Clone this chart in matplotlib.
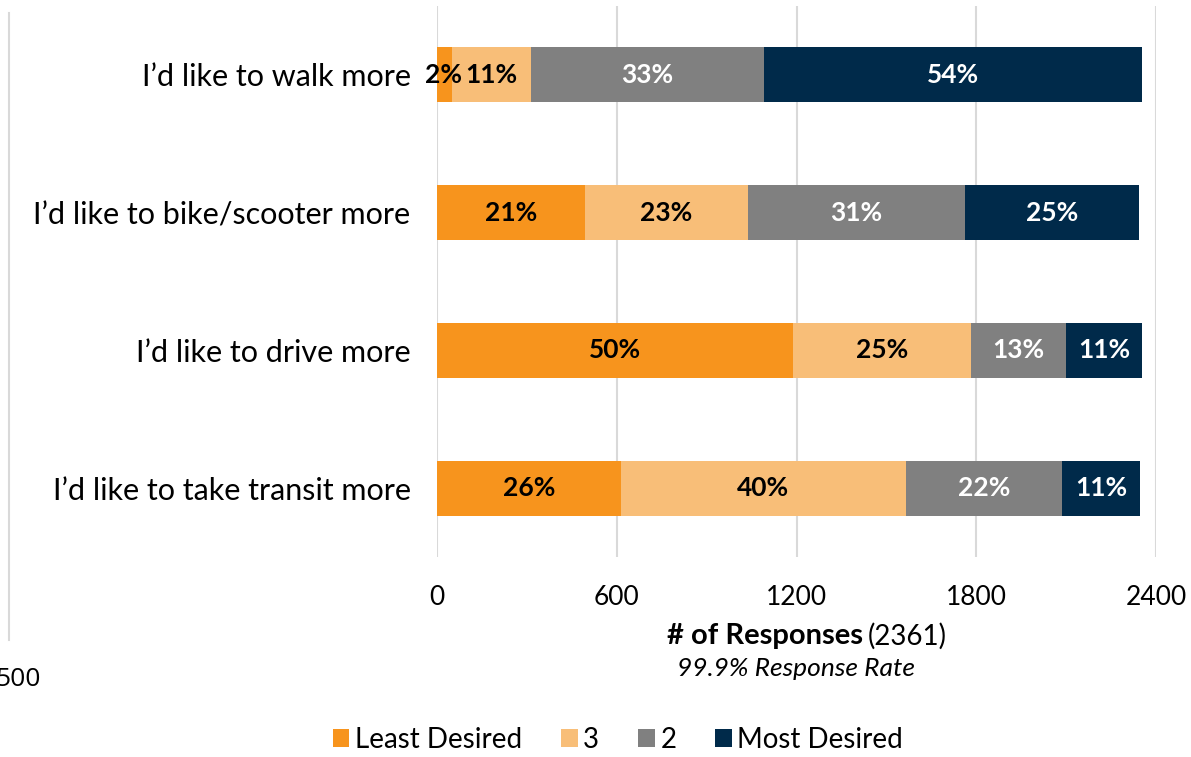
import matplotlib
matplotlib.use("Agg")
import matplotlib.pyplot as plt
import numpy as np

plt.rcParams["font.family"] = ["Lato", "DejaVu Sans"]

categories = ["I\u2019d like to walk more", "I\u2019d like to bike/scooter more",
              "I\u2019d like to drive more", "I\u2019d like to take transit more"]
series = ["Least Desired", "3", "2", "Most Desired"]
least = [50, 494, 1188, 614]
three = [264, 544, 594, 951]
two = [777, 724, 317, 521]
most = [1262, 581, 254, 260]
pct_least = ["2%", "21%", "50%", "26%"]
pct_three = ["11%", "23%", "25%", "40%"]
pct_two = ["33%", "31%", "13%", "22%"]
pct_most = ["54%", "25%", "11%", "11%"]
xticks = [0, 600, 1200, 1800, 2400]

colors = ["#F7941D", "#F8BE78", "#808080", "#002A4A"]
txtcol = ["black", "black", "white", "white"]

W, H = 1191, 757
fig = plt.figure(figsize=(W / 100, H / 100), dpi=100)
ax = fig.add_axes([437 / W, 1 - 557 / H, (1156 - 437) / W, (557 - 6) / H])

y = np.arange(len(categories))
vals = [least, three, two, most]
pcts = [pct_least, pct_three, pct_two, pct_most]
left = np.zeros(len(categories))
for k in range(4):
    v = np.array(vals[k], dtype=float)
    ax.barh(y, v, left=left, height=0.4, color=colors[k], label=series[k], zorder=3)
    for i in range(len(categories)):
        cx = left[i] + v[i] / 2
        # the two thin segments of the first bar: labels nudged left
        if i == 0 and k in (0, 1):
            cx -= 2
        ax.text(cx, y[i], pcts[k][i], ha="center", va="center", color=txtcol[k],
                fontsize=19, fontweight="bold", zorder=4)
    left += v

ax.set_xlim(0, 2400)
ax.set_ylim(3.5, -0.5)
ax.set_xticks(xticks)
ax.set_xticklabels([str(t) for t in xticks], fontsize=19)
ax.set_yticks(y)
ax.set_yticklabels(categories, fontsize=22)
ax.tick_params(axis="x", length=0, pad=20)
ax.tick_params(axis="y", length=0, pad=19)
ax.grid(axis="x", color="#D9D9D9", linewidth=1.5, zorder=0)
for s in ax.spines.values():
    s.set_visible(False)

fig.text(863 / W, 1 - 636 / H, "# of Responses", ha="right", va="center",
         fontsize=21, fontweight="bold")
fig.text(868 / W, 1 - 636 / H, "(2361)", ha="left", va="center", fontsize=20)
fig.text(796 / W, 1 - 668 / H, "99.9% Response Rate", ha="center", va="center",
         fontsize=19, style="italic")

# leftover edge of a neighbouring chart
fig.add_artist(plt.Line2D([8.5 / W, 8.5 / W], [1 - 13 / H, 1 - 640 / H],
                          color="#D9D9D9", linewidth=1.5))
fig.text(41 / W, 1 - 680 / H, "500", ha="right", va="center", fontsize=19,
         family=["Open Sans", "DejaVu Sans"])

fig.legend(loc="center", bbox_to_anchor=(618 / W, 1 - 740 / H), ncol=4, frameon=False,
           fontsize=20, handlelength=0.6, handleheight=0.6, handletextpad=0.2,
           columnspacing=1.4)

fig.savefig("out.png", dpi=100)
